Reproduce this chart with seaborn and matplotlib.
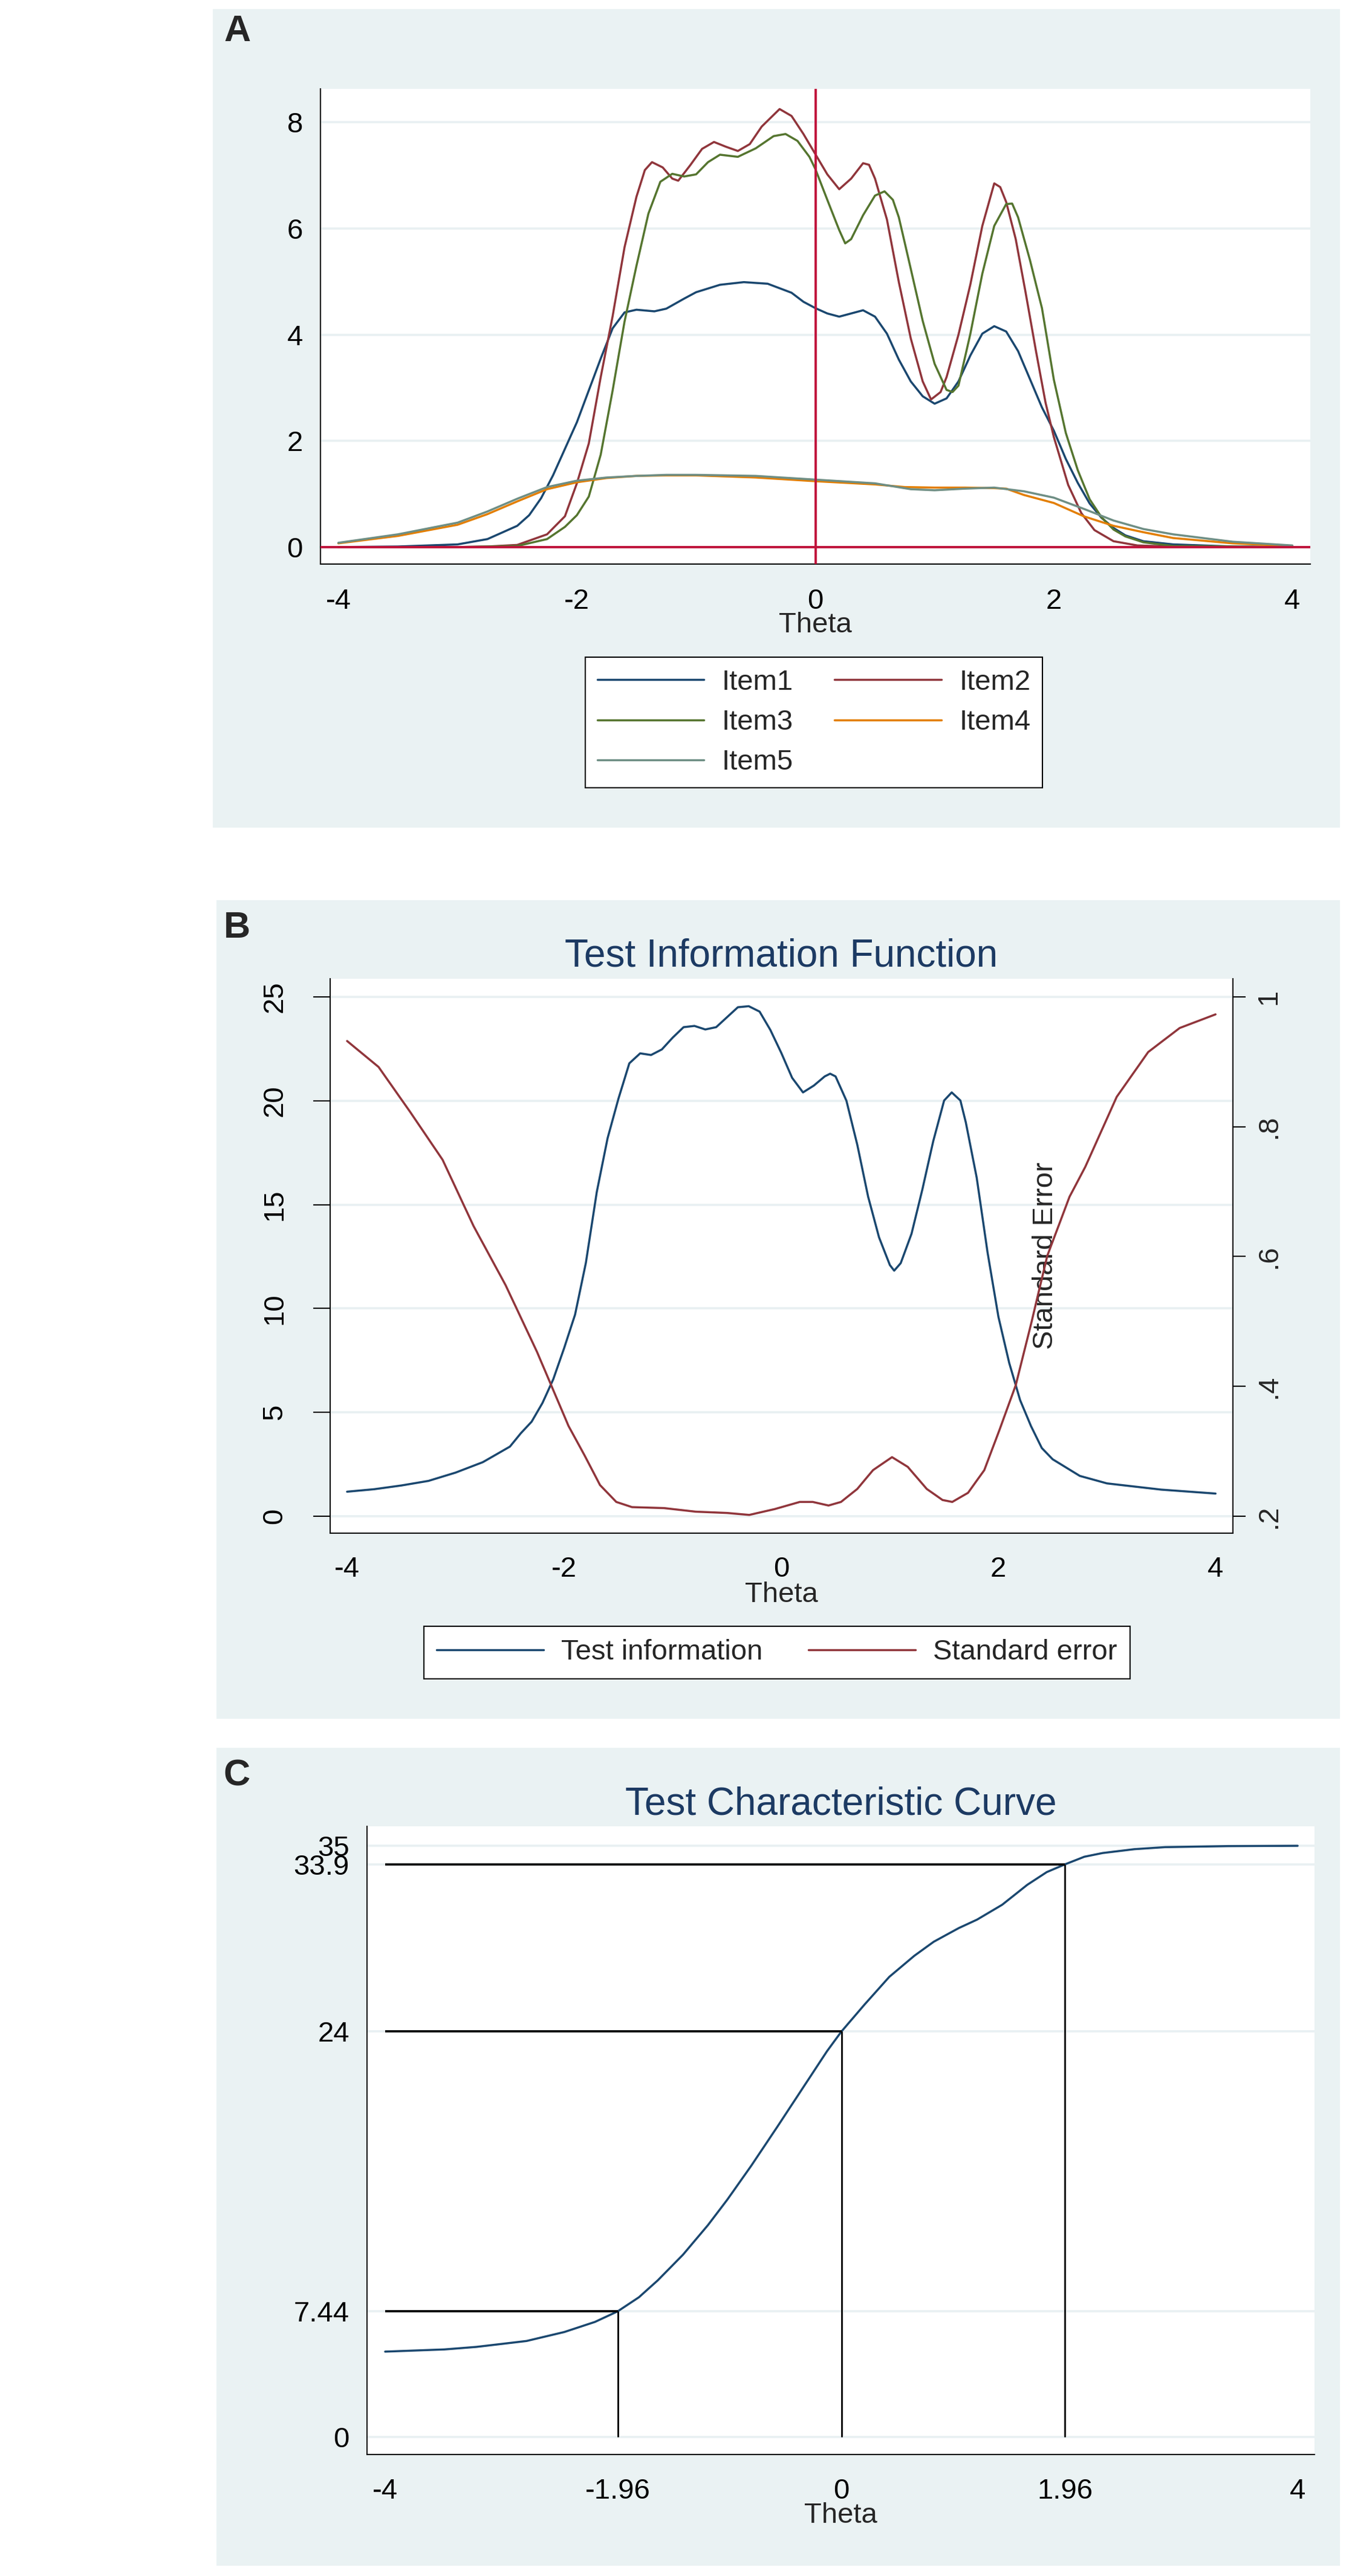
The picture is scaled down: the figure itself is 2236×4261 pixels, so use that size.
"""Item information (A), test information (B) and test characteristic curve (C)."""
import matplotlib
matplotlib.use("Agg")
import matplotlib.pyplot as plt
from matplotlib.patches import Rectangle
import pandas as pd
import seaborn as sns

# ---------------------------------------------------------------- data
ITEMS = ["Item1", "Item2", "Item3", "Item4", "Item5"]

ITEM1_THETA = [-4.0, -3.5, -3.0, -2.75, -2.5, -2.4, -2.3, -2.2, -2.1, -2.0,
               -1.9, -1.8, -1.7, -1.6, -1.5, -1.35, -1.25, -1.1, -1.0, -0.8,
               -0.6, -0.4, -0.2, -0.1, 0.0, 0.1, 0.2, 0.3, 0.4, 0.5,
               0.6, 0.7, 0.8, 0.9, 1.0, 1.1, 1.2, 1.3, 1.4, 1.5,
               1.6, 1.7, 1.8, 1.9, 2.0, 2.1, 2.2, 2.3, 2.4, 2.5,
               2.6, 2.75, 3.0, 3.5, 4.0]
ITEM1_INFO = [0.0, 0.01, 0.05, 0.15, 0.4, 0.6, 0.92, 1.35, 1.85, 2.35,
              2.95, 3.55, 4.12, 4.42, 4.47, 4.44, 4.49, 4.68, 4.8, 4.94,
              4.99, 4.96, 4.79, 4.62, 4.5, 4.4, 4.34, 4.4, 4.46, 4.34,
              4.02, 3.53, 3.12, 2.84, 2.7, 2.8, 3.12, 3.61, 4.02, 4.16,
              4.06, 3.69, 3.16, 2.63, 2.19, 1.66, 1.21, 0.82, 0.55, 0.36,
              0.22, 0.11, 0.05, 0.01, 0.0]

ITEM2_THETA = [-4.0, -3.0, -2.75, -2.5, -2.25, -2.1, -2.0, -1.9, -1.8, -1.7,
               -1.6, -1.5, -1.43, -1.37, -1.28, -1.2, -1.15, -1.05, -0.95, -0.85,
               -0.75, -0.65, -0.55, -0.45, -0.3, -0.2, -0.1, 0.0, 0.1, 0.2,
               0.3, 0.4, 0.45, 0.5, 0.6, 0.7, 0.8, 0.9, 0.97, 1.05,
               1.1, 1.2, 1.3, 1.4, 1.5, 1.55, 1.6, 1.68, 1.76, 1.85,
               1.93, 2.0, 2.12, 2.23, 2.34, 2.5, 2.7, 3.0, 4.0]
ITEM2_INFO = [0.0, 0.0, 0.01, 0.04, 0.24, 0.58, 1.2, 1.95, 3.2, 4.35,
              5.65, 6.6, 7.1, 7.25, 7.15, 6.94, 6.9, 7.19, 7.5, 7.63,
              7.54, 7.46, 7.59, 7.92, 8.25, 8.12, 7.78, 7.4, 7.02, 6.74,
              6.94, 7.23, 7.2, 6.94, 6.17, 4.99, 3.93, 3.12, 2.78, 2.92,
              3.2, 4.0, 4.95, 6.05, 6.85, 6.78, 6.5, 5.8, 4.83, 3.69,
              2.72, 2.07, 1.17, 0.64, 0.32, 0.11, 0.03, 0.01, 0.0]

ITEM3_THETA = [-4.0, -3.0, -2.5, -2.25, -2.1, -2.0, -1.9, -1.8, -1.7, -1.6,
               -1.5, -1.4, -1.3, -1.2, -1.1, -1.0, -0.9, -0.8, -0.65, -0.5,
               -0.35, -0.25, -0.15, -0.05, 0.0, 0.1, 0.2, 0.25, 0.3, 0.4,
               0.5, 0.58, 0.65, 0.7, 0.8, 0.9, 1.0, 1.1, 1.15, 1.2,
               1.3, 1.4, 1.5, 1.6, 1.65, 1.7, 1.8, 1.9, 2.0, 2.1,
               2.2, 2.3, 2.4, 2.5, 2.6, 2.75, 3.0, 4.0]
ITEM3_INFO = [0.0, 0.0, 0.02, 0.15, 0.38, 0.6, 0.95, 1.74, 2.95, 4.25,
              5.3, 6.28, 6.88, 7.03, 6.98, 7.02, 7.25, 7.39, 7.35, 7.51,
              7.74, 7.78, 7.65, 7.35, 7.12, 6.54, 5.97, 5.72, 5.8, 6.25,
              6.62, 6.7, 6.54, 6.21, 5.24, 4.26, 3.45, 2.96, 2.92, 3.04,
              4.02, 5.15, 6.05, 6.46, 6.47, 6.21, 5.4, 4.5, 3.15, 2.15,
              1.45, 0.9, 0.56, 0.33, 0.2, 0.09, 0.02, 0.0]

ITEM4_THETA = [-4.0, -3.5, -3.0, -2.75, -2.5, -2.25, -2.0, -1.75, -1.5, -1.25,
               -1.0, -0.5, 0.0, 0.5, 0.75, 1.0, 1.25, 1.5, 1.6, 1.75,
               2.0, 2.25, 2.5, 2.75, 3.0, 3.5, 4.0]
ITEM4_INFO = [0.07, 0.21, 0.42, 0.62, 0.86, 1.09, 1.22, 1.3, 1.34, 1.35,
              1.35, 1.31, 1.24, 1.18, 1.13, 1.12, 1.12, 1.11, 1.1, 0.98,
              0.83, 0.58, 0.4, 0.28, 0.17, 0.07, 0.02]

ITEM5_THETA = [-4.0, -3.5, -3.0, -2.75, -2.5, -2.25, -2.0, -1.75, -1.5, -1.25,
               -1.0, -0.5, 0.0, 0.5, 0.8, 1.0, 1.25, 1.5, 1.75, 2.0,
               2.25, 2.5, 2.75, 3.0, 3.5, 4.0]
ITEM5_INFO = [0.08, 0.24, 0.46, 0.67, 0.91, 1.13, 1.25, 1.31, 1.34, 1.36,
              1.36, 1.34, 1.27, 1.2, 1.09, 1.07, 1.1, 1.12, 1.05, 0.93,
              0.72, 0.5, 0.34, 0.24, 0.1, 0.03]

TIF_THETA = [-4.0, -3.75, -3.5, -3.25, -3.0, -2.75, -2.5, -2.4, -2.3, -2.2,
             -2.1, -2.0, -1.9, -1.8, -1.7, -1.6, -1.5, -1.4, -1.3, -1.2,
             -1.1, -1.0, -0.9, -0.8, -0.7, -0.6, -0.5, -0.4, -0.3, -0.2,
             -0.1, 0.0, 0.1, 0.2, 0.3, 0.4, 0.45, 0.5, 0.6, 0.7,
             0.8, 0.9, 1.0, 1.04, 1.1, 1.2, 1.3, 1.4, 1.5, 1.57,
             1.65, 1.7, 1.8, 1.9, 2.0, 2.1, 2.2, 2.3, 2.4, 2.5,
             2.75, 3.0, 3.5, 4.0]
TIF_INFO = [1.18, 1.3, 1.48, 1.7, 2.1, 2.6, 3.35, 3.99, 4.55, 5.45,
            6.6, 8.1, 9.7, 12.2, 15.6, 18.2, 20.1, 21.8, 22.28, 22.2,
            22.47, 23.04, 23.54, 23.6, 23.43, 23.54, 24.02, 24.5, 24.55, 24.29,
            23.4, 22.3, 21.1, 20.4, 20.73, 21.17, 21.3, 21.17, 20.0, 17.88,
            15.38, 13.43, 12.09, 11.82, 12.18, 13.6, 15.74, 18.06, 20.01, 20.4,
            20.01, 18.95, 16.3, 12.7, 9.6, 7.37, 5.59, 4.34, 3.28, 2.74,
            1.94, 1.58, 1.28, 1.09]

SE_THETA = [-4.0, -3.71, -3.42, -3.12, -2.835, -2.54, -2.25, -2.105, -1.96, -1.81,
            -1.67, -1.52, -1.375, -1.08, -0.79, -0.5, -0.295, -0.06, 0.17, 0.29,
            0.435, 0.55, 0.7, 0.845, 1.02, 1.165, 1.34, 1.485, 1.575, 1.72,
            1.87, 2.01, 2.16, 2.305, 2.45, 2.655, 2.8, 3.09, 3.38, 3.67, 4.0]
SE_VALUE = [0.932, 0.892, 0.823, 0.749, 0.647, 0.556, 0.453, 0.396, 0.339, 0.293,
            0.248, 0.222, 0.214, 0.2125, 0.207, 0.205, 0.202, 0.211, 0.222, 0.222,
            0.2165, 0.222, 0.242, 0.271, 0.291, 0.276, 0.242, 0.225, 0.222, 0.236,
            0.271, 0.333, 0.402, 0.499, 0.601, 0.692, 0.738, 0.846, 0.915, 0.952, 0.973]

TCC_THETA = [-4.0, -3.48, -3.2, -2.76, -2.43, -2.16, -1.96, -1.775, -1.61, -1.39,
             -1.17, -1.0, -0.79, -0.566, -0.346, -0.126, 0.0, 0.203, 0.42, 0.64,
             0.81, 1.03, 1.19, 1.41, 1.63, 1.8, 1.96, 2.13, 2.29, 2.57,
             2.84, 3.39, 4.0]
TCC_SCORE = [5.05, 5.18, 5.33, 5.68, 6.21, 6.81, 7.44, 8.27, 9.27, 10.78,
             12.54, 14.05, 16.06, 18.32, 20.58, 22.84, 24.0, 25.6, 27.24, 28.49,
             29.32, 30.13, 30.63, 31.51, 32.69, 33.44, 33.9, 34.35, 34.57, 34.8,
             34.92, 34.98, 35.0]

# reference cut points on the TCC (theta -> expected score)
CUT_THETA = [-1.96, 0.0, 1.96]
CUT_SCORE = [7.44, 24.0, 33.9]

A_YTICKS = [0, 2, 4, 6, 8]
AB_XTICKS = [-4, -2, 0, 2, 4]
B_YTICKS = [0, 5, 10, 15, 20, 25]
B_SE_TICKS = [0.2, 0.4, 0.6, 0.8, 1.0]
B_SE_LABELS = [".2", ".4", ".6", ".8", "1"]
C_XTICKS = [-4, -1.96, 0, 1.96, 4]
C_XLABELS = ["-4", "-1.96", "0", "1.96", "4"]
C_YTICKS = [0, 7.44, 24, 33.9, 35]
C_YLABELS = ["0", "7.44", "24", "33.9", "35"]

# ---------------------------------------------------------------- style
NAVY = "#1a476f"
ITEM_COLORS = {"Item1": "#1a476f", "Item2": "#90353b", "Item3": "#55752f",
               "Item4": "#e37e00", "Item5": "#6e8e84"}
REF_RED = "#c0143c"
PANEL_BG = "#eaf2f3"
GRID = "#e8f0f2"
TITLE_COLOR = "#1c3a63"

W, H = 2236, 4261
FS = 34

sns.set_theme(style="white")
plt.rcParams.update({
    "font.family": ["Liberation Sans", "DejaVu Sans"],
    "axes.unicode_minus": False,
    "axes.edgecolor": "black",
})


def rect(l, t, r, b):
    return [l / W, 1 - b / H, (r - l) / W, (b - t) / H]


def style_axes(ax):
    ax.set_facecolor("white")
    for s in ["top", "right"]:
        ax.spines[s].set_visible(False)
    for s in ["left", "bottom"]:
        ax.spines[s].set_color("black")
        ax.spines[s].set_linewidth(1.5)
    ax.grid(axis="y", color=GRID, linewidth=2.6)
    ax.grid(axis="x", visible=False)
    ax.set_axisbelow(True)
    ax.tick_params(axis="both", direction="out", color="black", width=1.5,
                   labelsize=FS, labelcolor="black")
    ax.tick_params(axis="x", length=14, pad=15)
    ax.tick_params(axis="y", length=19, pad=2)


fig = plt.figure(figsize=(W / 100, H / 100), dpi=100)
fig.patch.set_facecolor("white")

for (l, t, r, b) in [(352, 15, 2216, 1369), (358, 1489, 2216, 2843), (358, 2891, 2216, 4244)]:
    fig.add_artist(Rectangle((l / W, 1 - b / H), (r - l) / W, (b - t) / H,
                             transform=fig.transFigure, facecolor=PANEL_BG,
                             edgecolor="none", zorder=0))

for letter, yc in [("A", 53), ("B", 1535), ("C", 2938)]:
    fig.text(370 / W, 1 - yc / H, letter, fontsize=44, fontweight="bold",
             ha="left", va="center")

# ---------------------------------------------------------------- panel A
ax_a = fig.add_axes(rect(530, 147, 2167, 933))
style_axes(ax_a)
item_df = pd.concat([
    pd.DataFrame({"theta": th, "info": v, "item": name})
    for name, th, v in [("Item1", ITEM1_THETA, ITEM1_INFO),
                        ("Item2", ITEM2_THETA, ITEM2_INFO),
                        ("Item3", ITEM3_THETA, ITEM3_INFO),
                        ("Item4", ITEM4_THETA, ITEM4_INFO),
                        ("Item5", ITEM5_THETA, ITEM5_INFO)]
], ignore_index=True)
sns.lineplot(data=item_df, x="theta", y="info", hue="item", hue_order=ITEMS,
             palette=ITEM_COLORS, estimator=None, sort=False, linewidth=2.5,
             legend=False, ax=ax_a)
ax_a.axvline(0, color=REF_RED, linewidth=2.8, zorder=3)
ax_a.axhline(0, color=REF_RED, linewidth=2.8, zorder=3)
ax_a.set_xlim(-4.15, 4.15)
ax_a.set_ylim(-0.32, 8.63)
ax_a.set_xticks(AB_XTICKS)
ax_a.set_yticks(A_YTICKS)
ax_a.set_ylabel("")
ax_a.set_xlabel("Theta", fontsize=FS, va="center")
ax_a.xaxis.set_label_coords(0.5, (933 - 1034) / (933 - 147))

lines_a = ax_a.get_lines()[:5]
order = [0, 2, 4, 1, 3]
leg_a = fig.legend([lines_a[i] for i in order], [ITEMS[i] for i in order],
                   ncol=2, loc="upper left", bbox_to_anchor=(968 / W, 1 - 1087 / H),
                   bbox_transform=fig.transFigure, borderaxespad=0, fontsize=FS,
                   handlelength=3.74, handletextpad=0.62, columnspacing=1.45,
                   labelspacing=0.47, borderpad=0.42, fancybox=False,
                   edgecolor="black", framealpha=1)
leg_a.get_frame().set_linewidth(1.5)

# ---------------------------------------------------------------- panel B
ax_b = fig.add_axes(rect(546, 1619, 2039, 2536))
style_axes(ax_b)
sns.lineplot(x=TIF_THETA, y=TIF_INFO, color=NAVY, linewidth=2.5,
             estimator=None, sort=False, ax=ax_b, label="Test information", legend=False)
ax_b.set_xlim(-4.156, 4.16)
ax_b.set_ylim(-0.815, 25.87)
ax_b.set_xticks(AB_XTICKS)
ax_b.set_yticks(B_YTICKS)
ax_b.set_yticklabels([str(v) for v in B_YTICKS], rotation=90, va="center")
ax_b.tick_params(axis="y", length=20, pad=30)
ax_b.tick_params(axis="x", pad=13)
ax_b.set_xlabel("Theta", fontsize=FS, va="center")
ax_b.xaxis.set_label_coords(0.5, (2536 - 2638) / (2536 - 1619))
ax_b.set_title("Test Information Function", fontsize=46, color=TITLE_COLOR, pad=15)

ax_b2 = ax_b.twinx()
ax_b2.set_facecolor("none")
for s in ["top", "left", "bottom"]:
    ax_b2.spines[s].set_visible(False)
ax_b2.spines["right"].set_color("black")
ax_b2.spines["right"].set_linewidth(1.5)
ax_b2.grid(False)
sns.lineplot(x=SE_THETA, y=SE_VALUE, color=ITEM_COLORS["Item2"], linewidth=2.5,
             estimator=None, sort=False, ax=ax_b2, label="Standard error", legend=False)
ax_b2.set_ylim(0.2 + 0.032 * -0.815, 0.2 + 0.032 * 25.87)
ax_b2.set_yticks(B_SE_TICKS)
ax_b2.set_yticklabels(B_SE_LABELS, rotation=90, va="center")
ax_b2.tick_params(axis="y", direction="out", length=15, width=1.5, pad=12,
                  labelsize=FS, color="black")
ax_b2.set_ylabel("Standard Error", fontsize=FS, rotation=90, va="center", ha="center")
ax_b2.yaxis.set_label_coords((1729 - 546) / (2039 - 546), 0.5)

leg_b = fig.legend([ax_b.get_lines()[0], ax_b2.get_lines()[0]],
                   ["Test information", "Standard error"], ncol=2, loc="upper left",
                   bbox_to_anchor=(701 / W, 1 - 2690 / H), bbox_transform=fig.transFigure,
                   borderaxespad=0, fontsize=FS, handlelength=3.74, handletextpad=0.62,
                   columnspacing=1.6, borderpad=0.45, fancybox=False,
                   edgecolor="black", framealpha=1)
leg_b.get_frame().set_linewidth(1.5)

# ---------------------------------------------------------------- panel C
ax_c = fig.add_axes(rect(607, 3021, 2174, 4060))
style_axes(ax_c)
sns.lineplot(x=TCC_THETA, y=TCC_SCORE, color=NAVY, linewidth=2.5,
             estimator=None, sort=False, ax=ax_c, legend=False)
ax_c.hlines(CUT_SCORE, [-4] * len(CUT_SCORE), CUT_THETA, color="black", linewidth=2.6)
ax_c.vlines(CUT_THETA, [0] * len(CUT_THETA), CUT_SCORE, color="black", linewidth=2.0)
ax_c.set_xlim(-4.159, 4.148)
ax_c.set_ylim(-1.04, 36.15)
ax_c.set_xticks(C_XTICKS)
ax_c.set_xticklabels(C_XLABELS)
ax_c.set_yticks(C_YTICKS)
ax_c.set_yticklabels(C_YLABELS)
ax_c.tick_params(axis="x", pad=14)
ax_c.set_xlabel("Theta", fontsize=FS, va="center")
ax_c.xaxis.set_label_coords(0.5, (4060 - 4161) / (4060 - 3021))
ax_c.set_title("Test Characteristic Curve", fontsize=46, color=TITLE_COLOR, pad=14)

fig.savefig("out.png", dpi=100)
